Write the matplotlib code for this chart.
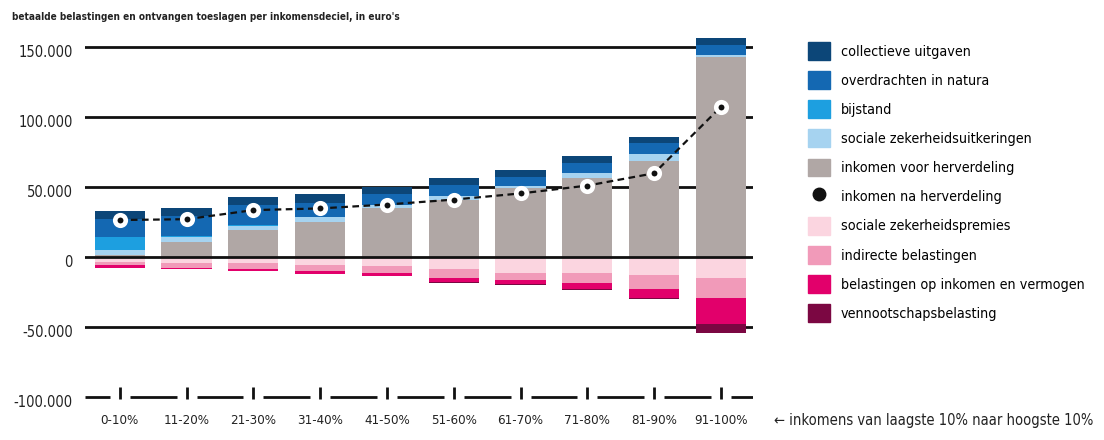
import matplotlib
matplotlib.use('Agg')
import matplotlib.pyplot as plt
import numpy as np
from matplotlib.patches import Patch
from matplotlib.lines import Line2D

plt.rcParams['font.family'] = ['DejaVu Sans']
plt.rcParams['font.stretch'] = 'condensed'

deciles = ['0-10%', '11-20%', '21-30%', '31-40%', '41-50%',
           '51-60%', '61-70%', '71-80%', '81-90%', '91-100%']

# ontvangen (positief), van onder naar boven
inkomen_voor = [1200, 10500, 19300, 25200, 35000, 40700, 49300, 56400, 68500, 143000]
soc_uitkeringen = [4000, 3500, 3000, 3200, 2000, 2800, 1500, 3300, 4800, 1500]
bijstand = [9000, 1000, 600, 400, 200, 200, 100, 100, 100, 100]
overdrachten = [12600, 14000, 14100, 10000, 7600, 7500, 6200, 7300, 7800, 6700]
collectief = [6000, 6000, 6000, 6000, 5000, 5000, 5000, 5000, 4700, 4800]

# betaald (negatief), van boven naar onder
premies = [3500, 4000, 4500, 5500, 6400, 8800, 11200, 11200, 12900, 14800]
indirect = [2500, 4000, 4000, 4500, 5000, 6000, 5400, 7600, 9800, 14300]
ink_verm = [1800, 300, 1300, 1800, 2100, 2900, 2900, 4300, 6600, 19000]
vpb = [0, 0, 200, 300, 300, 700, 500, 500, 1000, 6000]

inkomen_na = [26400, 27000, 33500, 34700, 37500, 41000, 45400, 51000, 59800, 107300]

yticks = [150000, 100000, 50000, 0, -50000, -100000]
ytick_labels = ['150.000', '100.000', '50.000', '0', '-50.000', '-100.000']

pos_series = [
    (inkomen_voor, '#b0a7a5', 'inkomen voor herverdeling'),
    (soc_uitkeringen, '#a6d3f0', 'sociale zekerheidsuitkeringen'),
    (bijstand, '#1d9fe0', 'bijstand'),
    (overdrachten, '#1468b2', 'overdrachten in natura'),
    (collectief, '#0c4678', 'collectieve uitgaven'),
]
neg_series = [
    (premies, '#fbd5e0', 'sociale zekerheidspremies'),
    (indirect, '#f19ab9', 'indirecte belastingen'),
    (ink_verm, '#e2006b', 'belastingen op inkomen en vermogen'),
    (vpb, '#7b0742', 'vennootschapsbelasting'),
]
txt = '#222222'

fig = plt.figure(figsize=(11.04, 4.4), dpi=100)
ax = fig.add_axes([85 / 1104, 1 - 411 / 440, 668 / 1104, 378 / 440])
x = np.arange(len(deciles))
w = 0.75

for g in [150000, 100000, 50000, -50000]:
    ax.axhline(g, color='#111111', lw=2.0, zorder=0)
ax.axhline(0, color='#111111', lw=2.0, zorder=3)

bottom = np.zeros(len(x))
for vals, col, lab in pos_series:
    ax.bar(x, vals, w, bottom=bottom, color=col, zorder=2)
    bottom += np.array(vals)
bottom = np.zeros(len(x))
for vals, col, lab in neg_series:
    v = -np.array(vals)
    ax.bar(x, v, w, bottom=bottom, color=col, zorder=2)
    bottom += v

ax.plot(x, inkomen_na, color='#111111', lw=1.6, ls=(0, (3, 2)), zorder=4)
ax.plot(x, inkomen_na, ls='none', marker='o', markersize=7.6, markerfacecolor='#111111',
        markeredgecolor='white', markeredgewidth=3.3, zorder=5)

# as op -100.000 met streepjes per deciel
gap = 0.15
edges = [-0.52] + [c for xi in x for c in (xi - gap, xi + gap)] + [9.48]
for a, b in zip(edges[::2], edges[1::2]):
    ax.plot([a, b], [-100000, -100000], color='#111111', lw=2.0, solid_capstyle='butt')
for xi in x:
    ax.plot([xi, xi], [-101500, -93000], color='#111111', lw=2.0, solid_capstyle='butt')

for yv, lab in zip(yticks, ytick_labels):
    ax.text(-0.70, yv - 4000, lab, ha='right', va='center', fontsize=10.5, color=txt)
for xi, lab in zip(x, deciles):
    ax.text(xi, -116500, lab, ha='center', va='center', fontsize=9.5, color=txt)
ax.text(9.8, -116500, '\u2190 inkomens van laagste 10% naar hoogste 10%', ha='left',
        va='center', fontsize=10.5, color=txt)

ax.set_xlim(-0.52, 9.48)
ax.set_ylim(-110000, 160000)
ax.axis('off')

fig.text(12 / 1104, 1 - 17 / 440,
         "betaalde belastingen en ontvangen toeslagen per inkomensdeciel, in euro's",
         ha='left', va='center', fontsize=7.2, fontweight='bold', color=txt)

handles = [Patch(color=pos_series[4][1]), Patch(color=pos_series[3][1]),
           Patch(color=pos_series[2][1]), Patch(color=pos_series[1][1]),
           Patch(color=pos_series[0][1]),
           Line2D([], [], ls='none', marker='o', markersize=9, color='#111111')]
labels = [pos_series[4][2], pos_series[3][2], pos_series[2][2], pos_series[1][2],
          pos_series[0][2], 'inkomen na herverdeling']
for vals, col, lab in neg_series:
    handles.append(Patch(color=col))
    labels.append(lab)
fig.legend(handles, labels, loc='upper left', bbox_to_anchor=(808 / 1104, 1 - 42 / 440),
           frameon=False, fontsize=10.3, handlelength=1.54, handleheight=1.54,
           handletextpad=0.75, labelspacing=0.79, borderpad=0, borderaxespad=0)

plt.savefig('out.png', dpi=100)
